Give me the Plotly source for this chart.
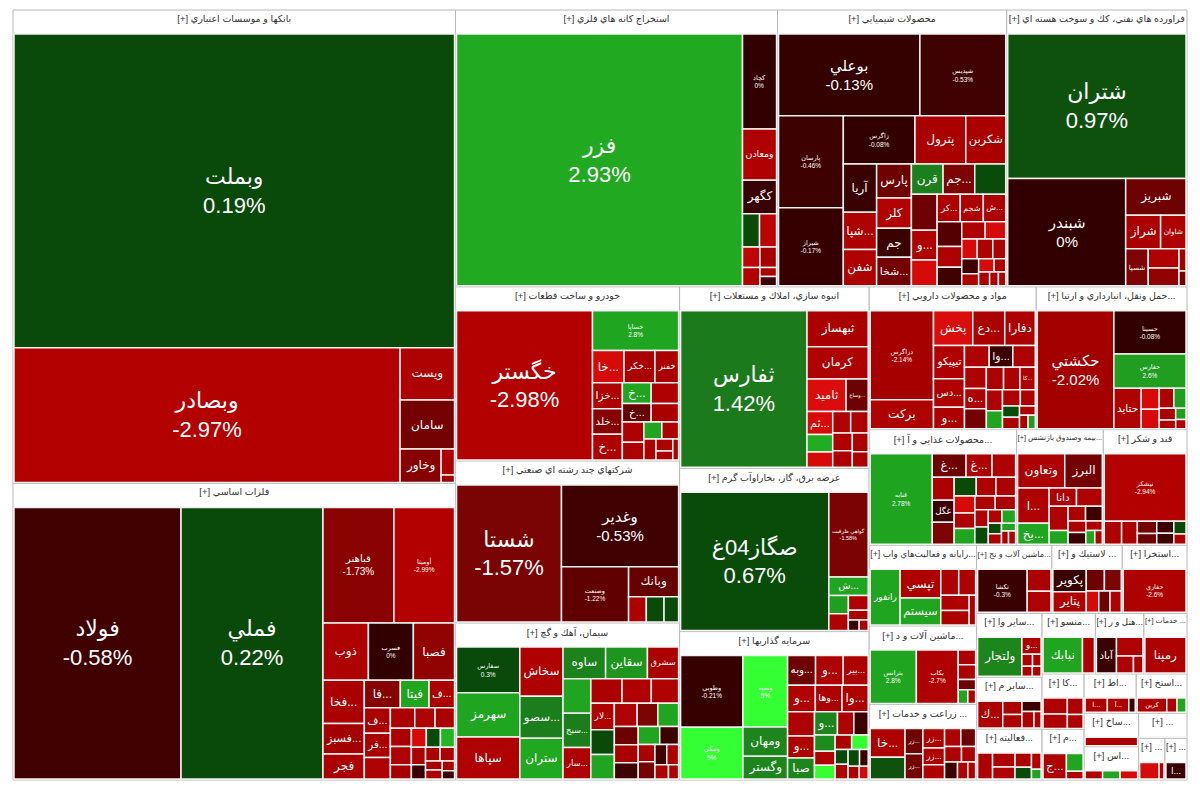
import plotly.graph_objects as go
import numpy as np

# ---------------- sectors ----------------
sector_names = [
    "بانكها و موسسات اعتباري", "فلزات اساسي", "استخراج كانه هاي فلزي", "محصولات شيميايي",
    "فراورده هاي نفتي، كك و سوخت هسته اي", "خودرو و ساخت قطعات", "شركتهاي چند رشته اي صنعتي",
    "سيمان، آهك و گچ", "انبوه سازي، املاك و مستغلات", "عرضه برق، گاز، بخاراوآب گرم",
    "سرمايه گذاريها", "مواد و محصولات دارويي", "حمل ونقل، انبارداري و ارتباطات",
    "محصولات غذايي و آشاميدني", "بيمه وصندوق بازنشستگي", "قند و شكر",
    "رايانه و فعاليت‌هاي وابسته", "زراعت و خدمات وابسته", "ماشين آلات و دستگاه‌هاي برقي",
    "ماشين آلات و تجهيزات", "لاستيك و پلاستيك", "ساير واسطه گريهاي مالي",
    "استخراج نفت گاز و خدمات جنبي", "فعاليتهاي كمكي به نهادهاي مالي", "خدمات فني و مهندسي",
    "هتل و رستوران", "ساير محصولات كاني غيرفلزي", "كاشي و سراميك", "اطلاعات و ارتباطات",
    "محصولات كاغذي", "منسوجات", "استخراج ساير معادن", "استخراج ذغال سنگ", "چاپ و تكثير",
    "ساخت محصولات فلزي", "دباغي", "محصولات چرمي",
]
sector_headers = [
    "[+] بانكها و موسسات اعتباري", "[+] فلزات اساسي", "[+] استخراج كانه هاي فلزي",
    "[+] محصولات شيميايي", "[+] فراورده هاي نفتي، كك و سوخت هسته اي", "[+] خودرو و ساخت قطعات",
    "[+] شركتهاي چند رشته اي صنعتي", "[+] سيمان، آهك و گچ", "[+] انبوه سازي، املاك و مستغلات",
    "[+] عرضه برق، گاز، بخاراوآب گرم", "[+] سرمايه گذاريها", "[+] مواد و محصولات دارويي",
    "[+] حمل ونقل، انبارداري و ارتبا...", "[+] محصولات غذايي و آ...",
    "[+] بيمه وصندوق بازنشس...", "[+] قند و شكر", "[+] رايانه و فعاليت‌هاي واب...",
    "[+] زراعت و خدمات ...", "[+] ماشين آلات و د...", "[+] ماشين آلات و تج...",
    "[+] لاستيك و ...", "[+] ساير وا...", "[+] استخرا...", "[+] فعاليته...", "[+] خدمات ...",
    "[+] هتل و ر...", "[+] ساير م...", "[+] كا...", "[+] اط...", "[+] م...", "[+] منسو...",
    "[+] استخ...", "[+] اس...", "[+] ...", "[+] ساخ...", "[+] ...", "[+] ...",
]
# area taken by each sector's title strip (same units as the stock areas)
sector_header_area = [
    6312, 6744, 6744, 4776, 4776, 4776, 3504, 3312, 3312, 2736, 2736, 2832, 2448, 2112,
    2160, 2160, 2160, 1728, 1728, 1728, 1272, 1128, 1152, 1080, 1200, 1272, 1080, 840,
    792, 840, 1080, 960, 840, 672, 960, 552, 480,
]

# ---------------- stocks (one inner list per sector) ----------------
stock_names = [
    ["وبملت", "وبصادر", "ويست", "سامان", "وخاور", "", ""],
    ["فولاد", "فملي", "قباهنر", "أوميتا", "فسرب", "فسبز...", "ذوب", "فصبا", "فخا...", "فجر",
     "ف...", "ف...", "فر...", "فا...", "فيتا", "", "", "", "", "", "", "", "", "", "", "", "",
     "", "", "", "", "", ""],
    ["فزر", "كچاد", "ومعادن", "كگهر", "", "", "", "", "", "", ""],
    ["بوعلي", "شپديس", "پارسان", "شيراز", "زاگرس", "پترول", "شكربن", "آريا", "شپا...", "كلر",
     "قرن", "جم...", "جم", "شفن", "", "شجم", "ش...", "كر...", "پارس", "شخا...", "و...", "",
     "", "", "", "", "", "", "", "", "", "", "", "", "", "", "", ""],
    ["شتران", "شبندر", "شبريز", "شراز", "شاوان", "شسپا", "", "", "", ""],
    ["خگستر", "خساپا", "خا...", "خكر...", "خلد...", "خ...", "", "خفنر", "خزا...", "خ...",
     "خ...", "", "", "", "", "", "", "", "", ""],
    ["شستا", "وغدير", "وصنعت", "وبانك", "", "", ""],
    ["سفارس", "سهرمز", "سپاها", "سخاش", "سصو...", "ستران", "سقاين", "ساوه", "سشرق", "سار...",
     "سبج...", "لار...", "", "", "", "", "", "", "", "", "", "", "", "", "", "", "", "", "",
     "", "", ""],
    ["ثفارس", "ثبهساز", "كرمان", "ثاميد", "وساخ...", "ثم...", "", "", "", "", "", "", "", ""],
    ["صگاز04غ", "گواهي ظرفيت", "ش...", "", "", "", "", "", ""],
    ["وطوبي", "ونيكي", "وسپه", "وبه...", "وها...", "و...", "بير...", "وا...", "", "و...",
     "ومهان", "وگستر", "و...", "صبا", "و...", "", "", "", "", "", "", "", "", "", "", "", "",
     ""],
    ["دزاگرس", "بركت", "پخش", "دفارا", "دع...", "دس...", "تيپيكو", "و...", "وا...", "ه...",
     "كا...", "", "", "", "", "", "", "", "", "", "", "", "", "", "", ""],
    ["حكشتي", "حسينا", "حفارس", "حتايد", "", "", "", "", "", "", "", ""],
    ["غنابه", "غ...", "غگل", "غ...", "", "", "", "", "", "", "", "", "", "", "", "", "", "",
     "", "", "", "", "", ""],
    ["وتعاون", "البرز", "ا...", "دانا", "بخ...", "", "", "", "", "", "", "", "", "", ""],
    ["نيشكر", "", "", "", "", "", "", "", ""],
    ["رانفور", "تپسي", "سيستم", "", "", "", "", ""],
    ["خا...", "", "زر...", "زر...", "زر...", "زر...", "", "", "", "", "", "", "", ""],
    ["بترانس", "بكاب", "", "", "", "", ""],
    ["تكشا", "", ""],
    ["پكوير", "پتاير", "", "", "", "", ""],
    ["ولتجار", "و...", "", "", "", ""],
    ["حفاري"],
    ["", "", "", "", "", "", ""],
    ["رمپنا"],
    ["آباد", "", "", ""],
    ["ك...", "", "", "", "", ""],
    ["", "", "", ""],
    ["ا...", "", "آ..."],
    ["ج...", "", ""],
    ["نبابك", ""],
    ["كربن", "", ""],
    ["", "", ""],
    ["", ""],
    [""],
    ["", ""],
    ["ا..."],
]
stock_areas = [
    [136234, 51300, 2805, 2640, 1353, 340, 100],
    [45200, 38400, 8160, 6970, 2565, 1260, 2592, 2350, 1780, 1030, 700, 660, 630, 990, 790,
     560, 500, 416, 400, 380, 380, 264, 264, 200, 200, 280, 200, 150, 150, 250, 300, 120, 100],
    [70432, 3162, 1705, 1116, 555, 555, 345, 330, 315, 150, 150],
    [11340, 6885, 5832, 4968, 3384, 2397, 1887, 1581, 1215, 1035, 945, 945, 990, 1188, 924,
     616, 600, 620, 1161, 972, 756, 903, 650, 600, 500, 450, 400, 350, 300, 300, 250, 250,
     200, 200, 150, 150, 120, 100],
    [24752, 12155, 2128, 1118, 812, 806, 575, 525, 150, 100],
    [20007, 3360, 1008, 989, 756, 756, 430, 759, 759, 588, 525, 560, 500, 378, 300, 280, 250,
     200, 150, 120],
    [14807, 9856, 3822, 1551, 460, 460, 378],
    [3000, 2920, 2760, 2205, 1890, 1827, 1375, 1400, 1025, 912, 988, 646, 1000, 800, 750, 700,
     600, 550, 500, 450, 400, 600, 500, 450, 400, 350, 300, 300, 250, 250, 200, 150],
    [20010, 2220, 1998, 1288, 728, 600, 390, 450, 400, 380, 350, 330, 300, 250],
    [21318, 3468, 759, 368, 342, 300, 200, 120, 100],
    [4680, 3384, 3344, 868, 744, 620, 774, 731, 680, 860, 1368, 1064, 774, 594, 561, 400, 350,
     350, 300, 300, 250, 250, 200, 200, 200, 150, 150, 120],
    [5808, 1892, 1404, 1092, 1144, 912, 1064, 684, 527, 459, 357, 550, 500, 480, 450, 400,
     380, 350, 300, 300, 250, 200, 200, 150, 120, 100],
    [9384, 3237, 2573, 1148, 392, 364, 300, 250, 200, 150, 120, 100],
    [6072, 860, 520, 660, 598, 520, 546, 450, 400, 400, 380, 350, 350, 300, 300, 250, 250,
     200, 200, 150, 150, 120, 100, 100],
    [1568, 1248, 1083, 486, 646, 459, 448, 250, 250, 240, 200, 200, 150, 120, 100],
    [5304, 385, 350, 230, 200, 200, 180, 150, 120],
    [1750, 1225, 1155, 490, 455, 462, 430, 200],
    [1140, 860, 512, 512, 480, 416, 350, 330, 300, 300, 250, 250, 200, 150],
    [2790, 2535, 290, 290, 200, 150, 120],
    [2162, 506, 529],
    [850, 775, 448, 416, 300, 270, 270],
    [2010, 378, 150, 120, 120, 100],
    [3082],
    [500, 350, 250, 400, 300, 200, 120],
    [1305],
    [667, 459, 270, 150],
    [864, 253, 330, 253, 330, 150],
    [450, 400, 300, 250],
    [520, 150, 500],
    [700, 350, 150],
    [1551, 470],
    [575, 200, 175],
    [300, 300, 300],
    [300, 200],
    [800],
    [400, 100],
    [400],
]
stock_change = [
    [0.19, -2.97, -2.6, -1.5, -1.7, -2.6, -2.0],
    [-0.58, 0.22, -1.73, -2.99, 0, -2.0, -2.6, -1.8, -2.4, -2.5, -2.5, -2.4, -2.4, -1.7, 2.8,
     -2.6, -2.5, -2.6, -2.5, -2.4, -2.6, 0.5, 3.2, -0.3, -2.4, -4.0, -2.5, -2.3, -2.7, -2.5,
     -2.2, -2.5, -0.5],
    [2.93, 0, -2.7, -0.3, 0.5, -3.2, -3.3, -2.0, -2.8, -2.5, -0.3],
    [-0.13, -0.53, -0.46, -0.17, -0.08, -2.4, -2.4, -0.3, -2.6, -2.8, 1.6, -1.6, -0.4, -2.6,
     0.6, -2.6, -2.5, -2.6, -1.4, -1.5, -2.6, -1.4, -4.0, -1.0, -2.6, -0.6, -2.5, -4.0, -4.0,
     -2.6, -2.5, -0.5, -2.6, -4.0, -2.5, -2.5, -2.6, -2.7],
    [0.97, 0, -1.4, -2.4, -2.6, -1.6, -2.7, -1.8, -2.0, -1.5],
    [-2.98, 2.8, -4.0, -2.4, -1.7, -2.6, -2.6, -2.4, -2.6, 2.8, -1.3, -2.6, -2.4, -2.6, 2.8,
     -2.5, -2.6, -2.6, -2.6, -2.5],
    [-1.57, -0.53, -1.22, -1.3, -2.6, 0.5, 0.5],
    [0.3, 2.8, -2.7, -2.7, 1.5, 2.9, 2.3, 1.7, -2.4, -2.6, 1.5, -2.6, 2.8, -2.5, -2.6, -2.6,
     0.5, -2.6, -1.6, -1.4, -0.5, 2.8, 2.8, -2.4, 2.8, -0.4, -2.5, -1.5, -0.6, -2.7, -2.5,
     -2.6],
    [1.42, -2.4, -2.6, -4.2, -1.4, -4.0, -2.6, 3.0, -4.0, -2.6, -2.7, -2.6, -2.6, -2.5],
    [0.67, -1.58, 2.8, 2.6, -2.6, -2.6, -2.6, -0.4, -2.5],
    [-0.21, 5.0, 5.0, -1.4, -2.5, -2.6, -2.6, -2.6, -2.6, -2.6, 1.8, 1.8, -2.7, 1.8, 1.8,
     -2.6, -0.4, 2.0, -2.6, 5.0, -2.5, 5.0, 0.5, -2.6, 0.5, -0.4, -2.5, -4.0],
    [-2.14, -2.6, -4.2, -2.5, -2.5, -2.6, -2.7, -2.5, -0.3, -2.6, -2.6, -2.6, -2.5, -2.6,
     -1.5, -2.5, -2.6, -2.6, 2.8, -2.6, -2.5, 0.5, -2.5, -2.6, -2.5, 2.5],
    [-2.02, -0.08, 2.6, -2.6, -4.0, -4.0, -2.6, 2.6, -2.5, -2.6, 2.6, -2.6],
    [2.78, -1.4, -0.3, -2.6, -2.6, -1.6, -2.5, 0.4, -2.6, -2.5, -4.0, -2.6, 2.8, -2.6, -2.5,
     -2.6, 0.4, -2.6, 2.8, 0.4, -2.6, 2.8, -2.6, -2.6],
    [-2.6, -1.5, -2.6, -2.6, 2.8, -2.6, -2.6, 2.8, -2.5, -0.4, -2.6, -0.4, -2.6, 2.8, -2.6],
    [-2.94, -2.6, -2.6, -1.5, -1.4, -0.4, -0.5, 0.5, -2.6],
    [2.8, -2.7, 2.8, -2.6, -2.6, -2.6, -2.5, -2.6],
    [-2.6, 1.0, -1.4, -1.5, -2.6, -2.6, -2.6, -2.6, -1.4, -2.6, -2.6, -0.5, -2.6, -2.6],
    [2.8, -2.7, -2.6, -2.6, -1.4, 2.8, -2.6],
    [-0.3, -2.6, -2.5],
    [-0.3, -2.6, -1.4, -1.6, -4.0, -1.4, -2.6],
    [1.8, -2.6, -2.6, -2.6, -2.6, -2.5],
    [-2.6],
    [-2.6, -2.6, 0.4, -2.6, -2.6, -2.6, 2.8],
    [-2.6],
    [-0.4, -2.6, -2.6, -2.6],
    [-2.6, -0.4, -2.6, -2.6, -2.6, -2.6],
    [-2.6, -2.6, -2.6, -2.6],
    [-2.6, -0.4, -2.6],
    [-2.6, 2.8, -2.6],
    [2.8, -2.6],
    [-2.6, -2.6, 2.8],
    [-2.6, 2.8, -4.0],
    [-2.6, -2.6],
    [-2.6],
    [-4.0, -2.6],
    [-0.4],
]
# stocks whose label shows name and change in small type
small_full_names = [
    "أوميتا", "فسرب", "كچاد", "شپديس", "پارسان", "شيراز", "زاگرس", "خساپا", "وصنعت", "سفارس",
    "گواهي ظرفيت", "وطوبي", "ونيكي", "وسپه", "دزاگرس", "حسينا", "حفارس", "غنابه", "نيشكر",
    "بترانس", "بكاب", "تكشا", "حفاري",
]


# ---------------- styling helpers ----------------
def change_color(p):
    if p > 0:
        xs = [0, 0.7, 1.0, 1.4, 2.8, 5.0]
        cs = [(9, 72, 9), (10, 76, 10), (14, 82, 14), (27, 122, 27), (32, 165, 32), (51, 255, 51)]
    else:
        xs = [-5, -4, -3, -2, -1.6, -1.2, -0.5, 0]
        cs = [(235, 20, 20), (215, 10, 10), (180, 2, 2), (165, 0, 0), (125, 4, 4), (95, 0, 0),
              (62, 2, 2), (50, 0, 0)]
    r = np.interp(p, xs, [c[0] for c in cs])
    g = np.interp(p, xs, [c[1] for c in cs])
    b = np.interp(p, xs, [c[2] for c in cs])
    return f"rgb({int(r)},{int(g)},{int(b)})"


def fmt(p):
    return f"{p:g}%"


ids, labels, parents, values, texts, colors = [], [], [], [], [], []
sizes, fcolors, lcolors, lwidths = [], [], [], []

for i, sname in enumerate(sector_names):
    sid = f"s{i}"
    ids.append(sid)
    labels.append(sector_headers[i])
    parents.append("")
    values.append(0)
    texts.append(sector_headers[i])
    colors.append("white")
    sizes.append(9.5)
    fcolors.append("#333333")
    lcolors.append("#b8b8b8")
    lwidths.append(1)
    # stretch stocks so the sector (stocks + title strip) keeps its share of the page
    total = sum(stock_areas[i])
    grow = (total + sector_header_area[i]) / total
    for j, nm in enumerate(stock_names[i]):
        a = stock_areas[i][j]
        p = stock_change[i][j]
        ids.append(f"{sid}_{j}")
        labels.append(nm if nm else f"·{i}_{j}")
        parents.append(sid)
        values.append(a * grow)
        colors.append(change_color(p))
        fcolors.append("white")
        lcolors.append("#f2f2f2")
        lwidths.append(1.5)
        if nm == "":
            texts.append("")
            sizes.append(10)
        elif a >= 8000:
            texts.append(f"{nm}<br>{fmt(p)}")
            sizes.append(22 if a >= 14000 else (15 if a >= 9000 else 10))
        elif nm in small_full_names:
            texts.append(f"{nm}<br>{fmt(p)}")
            sizes.append(6.5)
        else:
            texts.append(nm)
            sizes.append(12)

fig = go.Figure(go.Treemap(
    ids=ids, labels=labels, parents=parents, values=values,
    branchvalues="remainder", sort=True,
    text=texts, texttemplate="%{text}", textposition="middle center",
    textfont=dict(size=sizes, color=fcolors, family="Liberation Sans, DejaVu Sans"),
    marker=dict(colors=colors, line=dict(color=lcolors, width=lwidths),
                pad=dict(t=24, l=1, r=1, b=1)),
    tiling=dict(packing="squarify", pad=0),
    pathbar=dict(visible=False),
    hoverinfo="skip",
))
fig.update_layout(
    width=1200, height=800,
    margin=dict(l=12, r=12, t=0, b=5),
    paper_bgcolor="white",
)
# remove page margin and hide the empty band that the implicit top-level root reserves
page_js = (
    "document.body.style.margin='0';"
    "var gd=document.getElementById('{plot_id}');"
    "gd.style.marginTop='-14px';"
)
fig.write_html("out.html", post_script=page_js, config={"displayModeBar": False})
